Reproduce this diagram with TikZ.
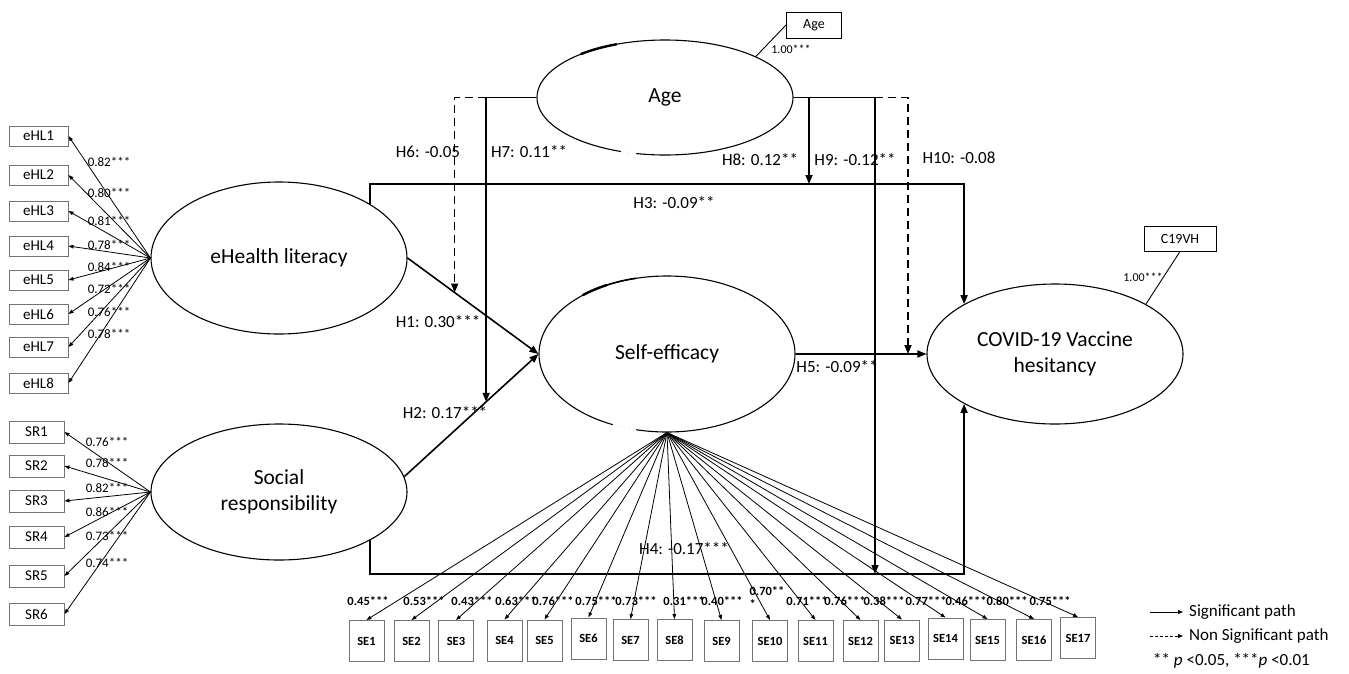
\documentclass[tikz,border=0pt]{standalone}
\usepackage{fontspec}
\setmainfont{Carlito}
\usetikzlibrary{arrows.meta,shapes.geometric,calc}
\begin{document}
\begin{tikzpicture}[x=1pt,y=-1pt,
  lat/.style={ellipse,draw,line width=1.1pt,inner sep=0pt,align=center,font=\fontsize{21.5}{26}\selectfont},
  ind/.style={draw=black!55,line width=1pt,inner sep=0pt,minimum width=59pt,minimum height=20pt,font=\fontsize{15}{16}\selectfont},
  srbox/.style={ind,minimum width=55pt,minimum height=22pt},
  sebox/.style={draw=black!55,line width=1pt,inner sep=0pt,minimum width=35pt,minimum height=41pt,font=\bfseries\fontsize{12.5}{14}\selectfont},
  obsbox/.style={draw,line width=1pt,inner sep=0pt,font=\fontsize{14}{16}\selectfont},
  lab/.style={inner sep=0pt,font=\fontsize{13}{14}\selectfont},
  selab/.style={inner sep=0pt,font=\bfseries\fontsize{12.5}{13}\selectfont},
  small/.style={inner sep=0pt,font=\fontsize{12}{13}\selectfont},
  hl/.style={inner sep=0pt,font=\fontsize{17}{19}\selectfont},
  leg/.style={inner sep=0pt,font=\fontsize{17}{19}\selectfont},
  load/.style={line width=0.8pt,-{Triangle[length=5pt,width=3.6pt]}},
  hpath/.style={line width=1.6pt,-{Triangle[length=9pt,width=7pt]}},
  hdash/.style={hpath,dash pattern=on 8pt off 5pt},
  legs/.style={line width=0.8pt,-{Triangle[length=5pt,width=4pt]}}
]
\useasboundingbox (0,0) rectangle (1349,673);

% latent variables
\node[lat,minimum width=256pt,minimum height=152pt] (ehl) at (279,258) {eHealth literacy};
\node[lat,minimum width=256pt,minimum height=136pt] (sr) at (279,492) {Social\\responsibility};
\node[lat,minimum width=256pt,minimum height=156pt] (se) at (667,354) {Self-efficacy};
\node[lat,minimum width=256pt,minimum height=115pt] (age) at (665,97.5) {Age};
\node[lat,minimum width=256pt,minimum height=140pt] (cvh) at (1055,354) {COVID-19 Vaccine\\hesitancy};

% rendering marks on ellipses
\draw[line width=2.4pt] ($(age.center)+(-84.2,-43.4)$) arc[start angle=131,end angle=112,x radius=128pt,y radius=57.5pt];
\draw[line width=1.6pt] ($(se.center)+(-84.2,-58.9)$) arc[start angle=131,end angle=104,x radius=128pt,y radius=78pt];
\draw[line width=2.4pt] ($(se.center)+(-84.2,-58.9)$) arc[start angle=131,end angle=118,x radius=128pt,y radius=78pt];
\draw[white,line width=2pt] ($(se.center)+(-54.1,70.7)$) arc[start angle=245,end angle=256,x radius=128pt,y radius=78pt];
\draw[white,line width=2pt] ($(age.center)+(-43.8,54.0)$) arc[start angle=250,end angle=257,x radius=128pt,y radius=57.5pt];

% eHealth literacy indicators
\foreach \i/\y in {1/136,2/175,3/211,4/246,5/280,6/314,7/347,8/383}
  \node[ind] (e\i) at (38.5,\y) {eHL\i};
\foreach \i in {1,...,8}
  \draw[load] (ehl.west) -- (e\i.east);
\foreach \i/\y/\v in {1/162/0.82,2/193/0.80,3/221/0.81,4/245/0.78,5/267/0.84,6/289/0.72,7/312/0.76,8/334/0.78}
  \node[lab] (le\i) at (109,\y) {\v***};

% social responsibility indicators
\foreach \i/\y in {1/432,2/466,3/501,4/537,5/576,6/614}
  \node[srbox] (s\i) at (36.5,\y) {SR\i};
\foreach \i in {1,...,6}
  \draw[load] (sr.west) -- (s\i.east);
\foreach \i/\y/\v in {1/442/0.76,2/463/0.78,3/488/0.82,4/512/0.86,5/536/0.73,6/563/0.74}
  \node[lab] (ls\i) at (107,\y) {\v***};

% self-efficacy indicators
\foreach \i/\x/\y in {1/366.5/641,2/411.5/641,3/456/641,4/504.5/640.5,5/544.5/640.5,6/588.5/638.5,7/630.5/640,8/674.5/640,9/721.5/641,10/770/641,11/815.5/641,12/860.5/641,13/902/640.5,14/945.5/638.5,15/987.5/640,16/1034/640,17/1078/638}
  \node[sebox] (q\i) at (\x,\y) {SE\i};
\foreach \i in {1,...,17}
  \draw[load] (se.south) -- (q\i.north);
\foreach \i/\x/\v in {1/368/0.45,2/424/0.53,3/472/0.43,4/516/0.63,5/553/0.76,6/596/0.75,7/636/0.73,8/684/0.31,9/722/0.40,11/807/0.71,12/845/0.76,13/884/0.38,14/926/0.77,15/966/0.46,16/1007/0.80,17/1050/0.75}
  \node[selab] (lq\i) at (\x,601) {\v***};
\node[selab,align=left] (lq10) at (767,598) {0.70**\\*};

% single indicators
\node[obsbox,minimum width=55pt,minimum height=26pt] (agebox) at (814,25) {Age};
\draw[line width=0.9pt] (agebox.west) -- (age.north east);
\node[small] (lage) at (791,49) {1.00***};
\node[obsbox,minimum width=72pt,minimum height=25pt] (cbox) at (1180,238.5) {C19VH};
\draw[line width=0.9pt] (cbox.south) -- (cvh.north east);
\node[small] (lcvh) at (1143,277) {1.00***};

% structural paths
\coordinate (h1m) at ($(ehl.east)!0.36!(se.west)$);
\coordinate (h2m) at ($(sr.7)!0.61!(se.west)$);
\coordinate (h3c) at (700,184);
\coordinate (h4c) at (700,574);
\coordinate (h3m) at (809,184);
\coordinate (h4m) at (875,574);
\coordinate (h5m) at (908,354);

\draw[hpath] (ehl.east) -- (se.west);
\draw[hpath] (sr.7) -- (se.west);
\draw[hpath] (ehl.north east) |- (h3c) -| (cvh.north west);
\draw[hpath] (sr.south east) |- (h4c) -| (cvh.south west);
\draw[hpath] (se.east) -- (cvh.west);
\draw[hpath] (age.west) -| (h2m);
\draw[hdash] (age.west -| h2m) -| (h1m);
\draw[hpath] (age.east) -| (h3m);
\draw[hpath] (age.east) -| (h4m);
\draw[hdash] (age.east -| h4m) -| (h5m);

% path labels
\node[hl] (t6) at (428,152) {H6: -0.05};
\node[hl] (t7) at (529,152) {H7: 0.11**};
\node[hl] (t8) at (760,160) {H8: 0.12**};
\node[hl] (t9) at (855,160) {H9: -0.12**};
\node[hl] (t10) at (959,158) {H10: -0.08};
\node[hl] (t3) at (674,203) {H3: -0.09**};
\node[hl] (t1) at (438,322) {H1: 0.30***};
\node[hl] (t2) at (445,413) {H2: 0.17***};
\node[hl] (t5) at (837,367) {H5: -0.09**};
\node[hl] (t4) at (684,549) {H4: -0.17***};

% legend
\coordinate (la1) at (1150,612);
\coordinate (lb1) at (1183,612);
\coordinate (la2) at (1150,636);
\coordinate (lb2) at (1183,636);
\draw[legs] (la1) -- (lb1);
\draw[legs,dash pattern=on 3pt off 2pt] (la2) -- (lb2);
\node[leg,anchor=west] (lt1) at (1189,612) {Significant path};
\node[leg,anchor=west] (lt2) at (1189,636) {Non Significant path};
\node[leg,anchor=west] (lt3) at (1153,661) {** \textit{p} <0.05, ***\textit{p} <0.01};
\end{tikzpicture}
\end{document}
